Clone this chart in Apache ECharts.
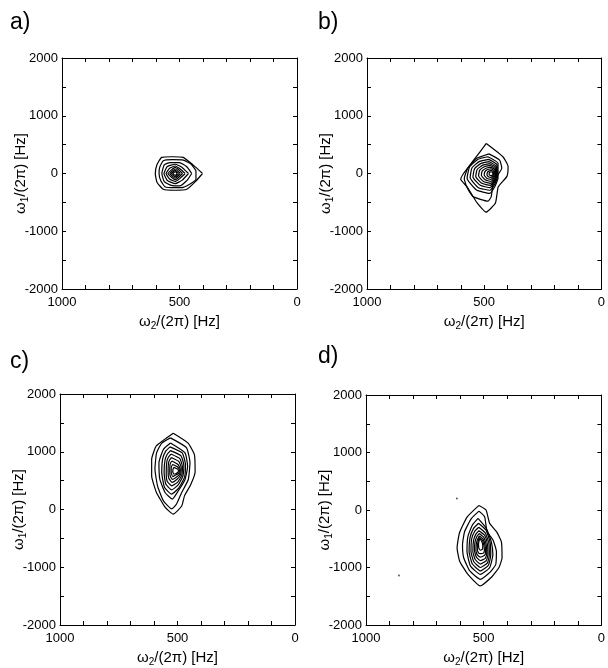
<!DOCTYPE html>
<html><head><meta charset="utf-8">
<script src="https://cdn.jsdelivr.net/npm/echarts@6/dist/echarts.min.js"></script>
<style>html,body{margin:0;padding:0;background:#fff}#c{width:608px;height:668px}</style>
</head><body><div id="c"></div>
<script>
// ---------- data (ω2 [Hz], ω1 [Hz]) ----------
const panelLabels = ['a)', 'b)', 'c)', 'd)'];
const xTickLabels = [1000, 500, 0];
const yTickLabels = [2000, 1000, 0, -1000, -2000];

const contoursA = [
  [[402,0],[440,140],[484,280],[530,290],[576,280],[596,150],[603,0],[596,-150],[569,-274],[520,-290],[469,-274],[430,-130],[402,0]],
  [[430,50],[450,160],[484,233],[530,240],[569,221],[584,110],[587,0],[580,-120],[562,-229],[520,-245],[484,-240],[450,-170],[430,-100],[430,50]],
  [[448,0],[470,120],[500,190],[540,190],[565,150],[575,0],[565,-140],[535,-205],[498,-215],[468,-120],[448,0]],
  [[462,0],[490,110],[518,160],[552,120],[566,0],[552,-120],[518,-175],[488,-115],[462,0]],
  [[476,0],[500,85],[518,130],[542,90],[557,0],[542,-95],[518,-140],[498,-85],[476,0]],
  [[487,0],[518,105],[549,0],[518,-110],[487,0]],
  [[496,0],[518,78],[541,0],[518,-82],[496,0]],
  [[503,0],[518,55],[534,0],[518,-58],[503,0]],
  [[509,0],[518,32],[528,0],[518,-34],[509,0]]
];

const contoursB = [
  [[491,520],[420,290],[398,120],[403,-50],[440,-230],[452,-510],[492,-670],[530,-510],[573,-230],[600,-100],[588,0],[545,230],[491,520]],
  [[480,340],[434,233],[425,90],[448,-60],[462,-170],[470,-400],[484,-480],[548,-400],[575,-230],[585,-85],[570,90],[533,260],[480,340]],
  [[484,290],[441,176],[441,-83],[455,-229],[477,-343],[533,-286],[573,-83],[562,117],[526,246],[484,290]],
  [[481,245],[445,150],[444,-70],[456,-195],[476,-290],[525,-245],[560,-70],[552,100],[520,210],[481,245]],
  [[478,205],[448,125],[447,-60],[457,-165],[475,-245],[517,-205],[548,-60],[541,85],[513,175],[478,205]],
  [[476,170],[450,105],[449,-50],[458,-140],[474,-205],[510,-170],[536,-50],[530,70],[506,145],[476,170]],
  [[474,140],[452,85],[451,-40],[459,-115],[472,-170],[503,-140],[524,-40],[519,58],[499,118],[474,140]],
  [[472,110],[455,68],[454,-32],[461,-92],[471,-135],[496,-110],[512,-32],[508,45],[492,92],[472,110]],
  [[471,82],[458,50],[457,-25],[463,-70],[471,-100],[489,-82],[500,-25],[497,32],[485,68],[471,82]],
  [[470,55],[461,33],[460,-18],[465,-48],[471,-66],[482,-55],[488,-18],[486,20],[478,45],[470,55]],
  [[470,30],[464,18],[463,-12],[466,-30],[471,-36],[476,-30],[479,-12],[478,10],[474,24],[470,30]]
];

const contoursC = [
  [[518,1320],[455,1150],[428,950],[425,650],[445,420],[470,240],[482,60],[518,-80],[553,40],[590,300],[610,580],[610,870],[590,1100],[518,1320]],
  [[530,1240],[462,1070],[447,810],[454,520],[482,295],[504,95],[525,10],[560,150],[585,410],[596,700],[589,980],[567,1150],[530,1240]],
  [[530,1150],[468,980],[457,750],[468,520],[497,320],[522,180],[553,295],[575,520],[579,810],[560,1040],[530,1150]],
  [[532,1085],[480,980],[466,780],[470,560],[495,370],[525,266],[555,380],[567,640],[563,880],[550,1010],[532,1085]],
  [[530,1020],[485,930],[473,760],[477,580],[498,420],[525,340],[550,440],[557,640],[553,860],[543,960],[530,1020]],
  [[528,960],[490,880],[479,740],[482,590],[500,470],[524,410],[544,490],[548,650],[545,840],[538,910],[528,960]],
  [[526,900],[494,830],[484,720],[487,600],[503,520],[523,470],[537,540],[540,660],[538,810],[533,860],[526,900]],
  [[524,840],[498,780],[488,700],[491,610],[505,560],[522,520],[531,580],[533,660],[532,770],[529,810],[524,840]],
  [[521,780],[500,740],[492,690],[494,630],[506,600],[520,570],[526,620],[527,670],[526,740],[521,780]],
  [[515,730],[500,700],[496,670],[499,640],[508,620],[516,615],[520,650],[519,700],[515,730]]
];

const contoursD = [
  [[520,80],[490,0],[475,-230],[445,-380],[425,-550],[422,-830],[435,-1000],[465,-1160],[515,-1320],[567,-1120],[602,-890],[613,-660],[603,-400],[570,-120],[520,80]],
  [[520,-20],[496,-117],[486,-375],[461,-518],[446,-720],[449,-950],[475,-1090],[514,-1205],[559,-1060],[585,-830],[590,-605],[581,-375],[552,-146],[520,-20]],
  [[524,-146],[489,-318],[468,-546],[461,-776],[475,-1005],[514,-1120],[556,-976],[571,-718],[567,-460],[548,-261],[524,-146]],
  [[522,-230],[490,-350],[473,-560],[470,-780],[480,-960],[514,-1060],[548,-940],[562,-720],[558,-480],[543,-320],[522,-230]],
  [[521,-300],[493,-400],[478,-580],[476,-780],[484,-920],[514,-1000],[542,-900],[554,-720],[551,-500],[538,-370],[521,-300]],
  [[520,-360],[496,-440],[484,-600],[482,-770],[489,-880],[514,-940],[536,-860],[546,-720],[543,-530],[533,-420],[520,-360]],
  [[519,-410],[499,-480],[489,-610],[487,-760],[493,-840],[514,-880],[531,-820],[539,-710],[537,-560],[529,-460],[519,-410]],
  [[518,-450],[502,-510],[494,-620],[492,-740],[497,-790],[514,-820],[527,-780],[533,-700],[531,-580],[525,-500],[518,-450]],
  [[517,-480],[505,-530],[499,-620],[497,-710],[501,-750],[514,-760],[523,-740],[527,-680],[526,-600],[522,-520],[517,-480]],
  [[516,-500],[508,-550],[504,-620],[505,-680],[514,-700],[520,-670],[522,-600],[520,-540],[516,-500]]
];
const strayPointsD = [[614,200],[860,-1140]];

// ---------- layout ----------
const FONT = '"Liberation Sans", Arial, Helvetica, sans-serif';
const grids = [
  {left: 62, top: 58, width: 235, height: 231},
  {left: 367, top: 58, width: 235, height: 231},
  {left: 60, top: 394, width: 235, height: 233},
  {left: 366, top: 395, width: 236, height: 233}
];
const labelPos = [[10, 11], [318, 11], [10, 350], [318, 345]];
const panels = [contoursA, contoursB, contoursC, contoursD];

const lineCol = '#000';
const xAxes = [], yAxes = [], series = [], titles = [];
const richSub = {
  s: {fontSize: 10, fontFamily: FONT, color: '#000', padding: [8, 0, 0, 0]}
};

grids.forEach((g, i) => {
  const common = {
    gridIndex: i, type: 'value',
    axisLine: {show: true, onZero: false, lineStyle: {color: lineCol, width: 1}},
    axisTick: {show: true, inside: true, length: 4, lineStyle: {color: lineCol, width: 1}},
    splitLine: {show: false}
  };
  xAxes.push(Object.assign({}, common, {
    position: 'bottom', min: 0, max: 1000, interval: 100, inverse: true,
    axisLabel: {margin: 7, fontSize: 13, color: '#000', fontFamily: FONT,
      showMinLabel: true, showMaxLabel: true,
      formatter: v => xTickLabels.includes(v) ? String(v) : ''},
    name: 'ω{s|2}/(2π) [Hz]', nameLocation: 'middle', nameGap: 24, nameMoveOverlap: false,
    nameTextStyle: {fontSize: 15, color: '#000', fontFamily: FONT, rich: richSub}
  }));
  xAxes.push(Object.assign({}, common, {
    position: 'top', min: 0, max: 1000, interval: 100, inverse: true,
    axisLabel: {show: false}
  }));
  yAxes.push(Object.assign({}, common, {
    position: 'left', min: -2000, max: 2000, interval: 500,
    axisLabel: {margin: 4, fontSize: 13, color: '#000', fontFamily: FONT,
      showMinLabel: true, showMaxLabel: true,
      formatter: v => yTickLabels.includes(v) ? String(v) : ''},
    name: 'ω{s|1}/(2π) [Hz]', nameLocation: 'middle', nameGap: 32, nameRotate: 90, nameMoveOverlap: false,
    nameTextStyle: {fontSize: 15, color: '#000', fontFamily: FONT, rich: richSub}
  }));
  yAxes.push(Object.assign({}, common, {
    position: 'right', min: -2000, max: 2000, interval: 500,
    axisLabel: {show: false}
  }));
  titles.push({
    text: panelLabels[i], left: labelPos[i][0], top: labelPos[i][1], padding: 0,
    textStyle: {fontSize: 23, fontWeight: 'normal', color: '#000', fontFamily: FONT}
  });
  panels[i].forEach(ring => {
    series.push({
      type: 'line', xAxisIndex: 2 * i, yAxisIndex: 2 * i, data: ring,
      symbol: 'none', silent: true, smooth: 0.15,
      lineStyle: {color: lineCol, width: 1.2}
    });
  });
});
series.push({
  type: 'scatter', xAxisIndex: 6, yAxisIndex: 6, data: strayPointsD,
  symbolSize: 2, itemStyle: {color: '#333'}, silent: true
});

const chart = echarts.init(document.getElementById('c'), null, {renderer: 'canvas'});
chart.setOption({
  animation: false,
  backgroundColor: '#fff',
  title: titles,
  grid: grids,
  xAxis: xAxes,
  yAxis: yAxes,
  series: series
});
</script>
</body></html>
